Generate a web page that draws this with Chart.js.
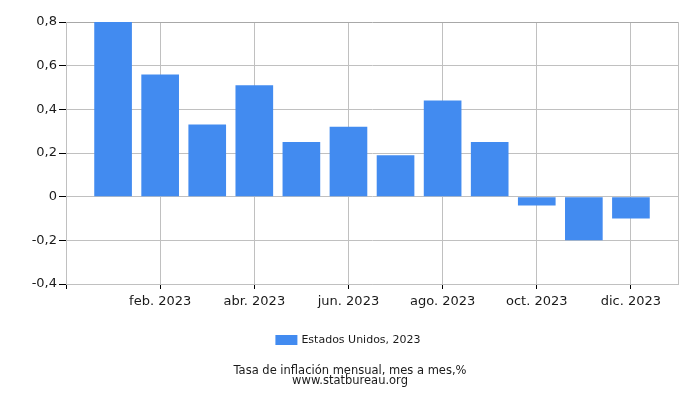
<!DOCTYPE html>
<html>
<head>
<meta charset="utf-8">
<script src="https://cdn.jsdelivr.net/npm/chart.js@4/dist/chart.umd.min.js"></script>
<style>
html,body{margin:0;padding:0;background:#fff;}
#wrap{width:700px;height:400px;position:relative;}
</style>
</head>
<body>
<div id="wrap"><canvas id="c" width="700" height="400"></canvas></div>
<script>
const months = ['ene. 2023','feb. 2023','mar. 2023','abr. 2023','may. 2023','jun. 2023','jul. 2023','ago. 2023','sep. 2023','oct. 2023','nov. 2023','dic. 2023'];
const values = [0.80, 0.56, 0.33, 0.51, 0.25, 0.32, 0.19, 0.44, 0.25, -0.04, -0.20, -0.10];
const seriesLabel = 'Estados Unidos, 2023';
const titleLines = ['Tasa de inflación mensual, mes a mes,%', 'www.statbureau.org'];
const yTicks = [-0.4, -0.2, 0, 0.2, 0.4, 0.6, 0.8];

const labels = [''].concat(months, ['']);
const data = [null].concat(values, [null]);
const barColor = '#428bf0';
const FONT = "'DejaVu Sans', sans-serif";

const bottomText = {
  id: 'bottomText',
  afterDraw(chart) {
    const ctx = chart.ctx;
    ctx.save();
    ctx.font = '11px ' + FONT;
    ctx.textBaseline = 'middle';
    const tw = ctx.measureText(seriesLabel).width;
    const boxW = 22, gap = 4;
    const total = boxW + gap + tw;
    const x0 = 348 - total / 2;
    ctx.fillStyle = barColor;
    ctx.fillRect(x0, 335, boxW, 10);
    ctx.fillStyle = '#1a1a1a';
    ctx.textAlign = 'left';
    ctx.fillText(seriesLabel, x0 + boxW + gap, 340.5);
    ctx.font = '11.5px ' + FONT;
    ctx.textAlign = 'center';
    ctx.fillText(titleLines[0], 350, 371.5);
    ctx.fillText(titleLines[1], 350, 381.5);
    ctx.restore();
  }
};

new Chart(document.getElementById('c'), {
  type: 'bar',
  data: {
    labels: labels,
    datasets: [{
      label: seriesLabel,
      data: data,
      backgroundColor: barColor,
      borderWidth: 0,
      barPercentage: 1.0,
      categoryPercentage: 0.8
    }]
  },
  options: {
    responsive: false,
    animation: false,
    devicePixelRatio: 1,
    layout: { padding: { top: 22, right: 22, left: 0, bottom: 86 } },
    plugins: {
      legend: { display: false },
      title: { display: false },
      tooltip: { enabled: false }
    },
    scales: {
      x: {
        type: 'category',
        offset: false,
        afterFit(s) { s.height = 30; },
        grid: {
          offset: false,
          color: (c) => {
            const i = c.index;
            return (i === 0 || i === 13 || (i % 2 === 0)) ? '#c0c0c0' : 'rgba(0,0,0,0)';
          },
          tickColor: (c) => {
            const i = c.index;
            return (i >= 0 && i <= 12 && i % 2 === 0) ? '#000' : 'rgba(0,0,0,0)';
          },
          tickLength: 5,
          lineWidth: 1
        },
        border: { display: true, color: '#c0c0c0' },
        ticks: {
          autoSkip: false,
          maxRotation: 0,
          padding: 5,
          color: '#1a1a1a',
          font: { family: FONT, size: 13 },
          callback: function (v, i) {
            return (i >= 2 && i <= 12 && i % 2 === 0) ? this.getLabelForValue(v) : '';
          }
        }
      },
      y: {
        min: -0.4,
        max: 0.8,
        afterFit(s) { s.width = 66; },
        afterBuildTicks(s) { s.ticks = yTicks.map(v => ({ value: v })); },
        grid: {
          color: (c) => c.tick && c.tick.value === 0.8 ? '#a8a8a8' : '#c0c0c0',
          tickColor: '#000',
          tickLength: 7,
          lineWidth: 1
        },
        border: { display: true, color: '#c0c0c0' },
        ticks: {
          padding: 2,
          color: '#1a1a1a',
          font: { family: FONT, size: 13 },
          callback: (v) => {
            const r = Math.round(v * 10) / 10;
            return String(r).replace('.', ',');
          }
        }
      }
    }
  },
  plugins: [bottomText, {
    id: 'rightBorder',
    afterDraw(chart) {
      const a = chart.chartArea, ctx = chart.ctx;
      ctx.save();
      ctx.strokeStyle = '#c0c0c0';
      ctx.lineWidth = 1;
      ctx.beginPath();
      ctx.moveTo(Math.round(a.right) + 0.5, a.top);
      ctx.lineTo(Math.round(a.right) + 0.5, a.bottom);
      ctx.stroke();
      ctx.restore();
    }
  }]
});
</script>
</body>
</html>
